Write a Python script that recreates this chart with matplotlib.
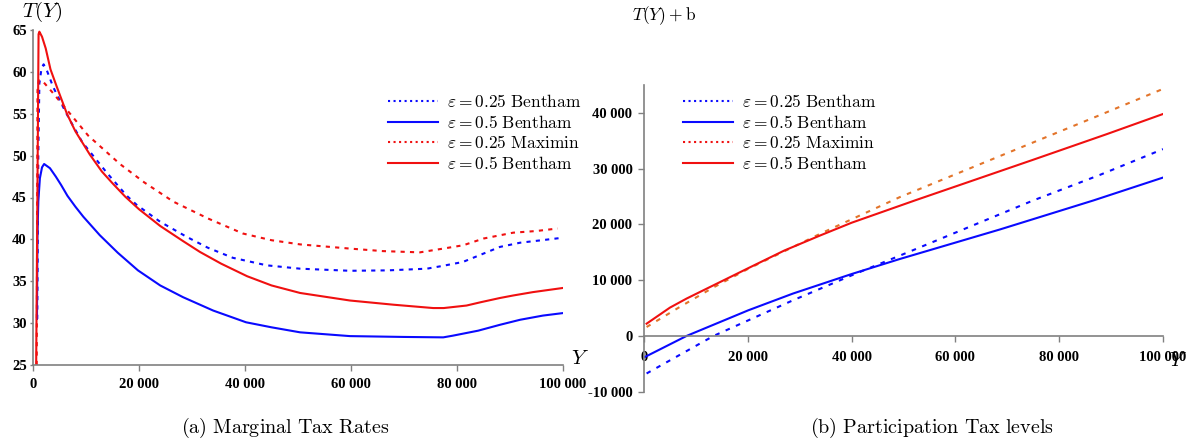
import matplotlib
matplotlib.use('Agg')
import matplotlib.pyplot as plt
from matplotlib.lines import Line2D
from matplotlib.ticker import FuncFormatter, FixedLocator

plt.rcParams['mathtext.fontset'] = 'cm'

# ---------------- data: (a) marginal tax rates ----------------
mtr_b025_y = [800, 1000, 1200, 1600, 2000, 2600, 3800, 6000, 7000, 9300, 14000, 17700, 19600,
              24000, 29000, 33000, 37700, 44100, 50400, 59800, 67000, 74300, 77000, 81100,
              88100, 91900, 96000, 100000]
mtr_b025_v = [30.5, 50.0, 58.6, 60.4, 60.9, 60.2, 58.2, 55.4, 54.2, 51.6, 47.9, 45.2, 44.1,
              42.1, 40.3, 39.0, 37.8, 36.9, 36.5, 36.25, 36.3, 36.5, 36.8, 37.3,
              39.1, 39.6, 39.9, 40.2]

mtr_b05_y = [750, 830, 1000, 1300, 1700, 2100, 3200, 4300, 5300, 6500, 8000, 9500, 12600, 16000,
             19800, 24000, 28300, 34000, 40200, 45000, 50400, 59800, 70000, 77400, 79200, 84000,
             88100, 91900, 96200, 100000]
mtr_b05_v = [30.5, 40.0, 44.5, 47.3, 48.6, 49.0, 48.5, 47.5, 46.5, 45.2, 43.9, 42.7, 40.5, 38.4,
             36.3, 34.5, 33.1, 31.5, 30.1, 29.5, 28.9, 28.45, 28.35, 28.3, 28.5, 29.1,
             29.8, 30.4, 30.9, 31.2]

mtr_m025_y = [700, 850, 1100, 1950, 3600, 7000, 10400, 16400, 21000, 26500, 33000, 39600,
              45000, 50400, 59800, 66000, 73000, 77400, 81200, 85000, 90600, 95000, 99000]
mtr_m025_v = [25.0, 57.8, 59.0, 58.8, 57.6, 55.0, 52.4, 49.0, 46.8, 44.5, 42.5, 40.7,
              39.9, 39.4, 38.9, 38.6, 38.45, 38.9, 39.3, 40.1, 40.8, 41.0, 41.3]

mtr_b05r_y = [600, 1050, 1200, 1700, 2400, 3300, 4500, 6400, 8000, 10750, 13000, 15000, 17400,
              20000, 24000, 28300, 31500, 35500, 40400, 45000, 50400, 59800, 68000, 75500,
              77500, 81800, 84500, 88100, 90600, 94300, 100000]
mtr_b05r_v = [25.0, 64.5, 64.8, 64.2, 62.8, 60.3, 58.2, 55.0, 52.9, 50.1, 48.1, 46.7, 45.1,
              43.6, 41.6, 39.8, 38.5, 37.1, 35.6, 34.5, 33.6, 32.7, 32.2, 31.8,
              31.8, 32.1, 32.5, 33.0, 33.3, 33.7, 34.2]

# ---------------- data: (b) participation tax levels ----------------
pt_b025_y = [500, 13400, 28700, 40000, 51900, 75000, 87900, 100000]
pt_b025_v = [-6730, 0, 6390, 10860, 15400, 24300, 28900, 33500]

pt_b05_y = [200, 8200, 20100, 28700, 40000, 49300, 68600, 86600, 100000]
pt_b05_v = [-3760, 0, 4600, 7600, 11100, 13800, 19100, 24300, 28400]

pt_m025_y = [500, 6900, 13300, 20100, 33900, 49300, 70500, 87200, 100000]
pt_m025_v = [1600, 5200, 8660, 12050, 18300, 24900, 32990, 39360, 44300]

pt_b05r_y = [500, 5000, 8200, 20100, 27000, 33900, 40000, 52200, 75000, 89200, 100000]
pt_b05r_v = [2200, 5080, 6700, 12160, 15300, 18000, 20300, 24300, 31600, 36200, 39800]

x_ticks = [0, 20000, 40000, 60000, 80000, 100000]
mtr_ticks = [25, 30, 35, 40, 45, 50, 55, 60, 65]
pt_ticks = [-10000, 0, 10000, 20000, 30000, 40000]

labels = [r'$\varepsilon = 0.25\ \mathrm{Bentham}$',
          r'$\varepsilon = 0.5\ \mathrm{Bentham}$',
          r'$\varepsilon = 0.25\ \mathrm{Maximin}$',
          r'$\varepsilon = 0.5\ \mathrm{Bentham}$']

BLUE = '#0a0aff'
RED = '#f01010'
ORANGE = '#e3742a'
SPINE = '#808080'
DOT1 = (0, (2.0, 2.5))
DOT2 = (0, (2.2, 3.2))
LW = 1.5

W, H = 1196, 445
def fx(px):
    return px / W
def fy(py):
    return 1 - py / H

def fmt(v, pos):
    s = f"{abs(int(round(v))):,}".replace(',', ' ')
    return ('-' if v < 0 else '') + s

tickfont = dict(family='Liberation Serif', weight='bold', size=10.5)

fig = plt.figure(figsize=(11.96, 4.45), dpi=100)

# ---------------- panel (a) ----------------
ax1 = fig.add_axes([fx(33), fy(365), fx(563) - fx(33), fy(30) - fy(365)])
ax1.plot(mtr_b025_y, mtr_b025_v, color=BLUE, lw=LW, ls=DOT1)
ax1.plot(mtr_m025_y, mtr_m025_v, color=RED, lw=LW, ls=DOT1)
ax1.plot(mtr_b05_y, mtr_b05_v, color=BLUE, lw=LW)
ax1.plot(mtr_b05r_y, mtr_b05r_v, color=RED, lw=LW)
ax1.set_xlim(0, 100000)
ax1.set_ylim(25, 65)
ax1.xaxis.set_major_locator(FixedLocator(x_ticks))
ax1.yaxis.set_major_locator(FixedLocator(mtr_ticks))
ax1.xaxis.set_major_formatter(FuncFormatter(fmt))
ax1.yaxis.set_major_formatter(FuncFormatter(lambda v, p: f"{int(v)}"))
for s in ['top', 'right']:
    ax1.spines[s].set_visible(False)
for s in ['left', 'bottom']:
    ax1.spines[s].set_color(SPINE)
    ax1.spines[s].set_linewidth(1.2)
ax1.tick_params(axis='x', direction='out', length=4, width=1, color=SPINE, pad=5.5)
ax1.tick_params(axis='y', direction='out', length=2, width=1, color=SPINE, pad=2.5)
for lab in ax1.get_xticklabels() + ax1.get_yticklabels():
    lab.set_fontproperties(tickfont)

# ---------------- panel (b) ----------------
ax2 = fig.add_axes([fx(644), fy(391.7), fx(1163) - fx(644), fy(85) - fy(391.7)])
ax2.plot(pt_b025_y, pt_b025_v, color=BLUE, lw=LW, ls=DOT2)
ax2.plot(pt_m025_y, pt_m025_v, color=ORANGE, lw=LW, ls=DOT2)
ax2.plot(pt_b05_y, pt_b05_v, color=BLUE, lw=LW)
ax2.plot(pt_b05r_y, pt_b05r_v, color=RED, lw=LW)
ax2.set_xlim(0, 100000)
ax2.set_ylim(-10000, 45000)
ax2.xaxis.set_major_locator(FixedLocator(x_ticks))
ax2.yaxis.set_major_locator(FixedLocator(pt_ticks))
ax2.xaxis.set_major_formatter(FuncFormatter(fmt))
ax2.yaxis.set_major_formatter(FuncFormatter(fmt))
for s in ['top', 'right']:
    ax2.spines[s].set_visible(False)
ax2.spines['bottom'].set_position(('data', 0))
for s in ['left', 'bottom']:
    ax2.spines[s].set_color(SPINE)
    ax2.spines[s].set_linewidth(1.2)
ax2.tick_params(axis='x', direction='out', length=4, width=1, color=SPINE, pad=7)
ax2.tick_params(axis='y', direction='out', length=4.3, width=1, color=SPINE, pad=4.0)
for lab in ax2.get_xticklabels() + ax2.get_yticklabels():
    lab.set_fontproperties(tickfont)

# ---------------- legends ----------------
handles = [Line2D([], [], color=BLUE, lw=LW, ls=':'),
           Line2D([], [], color=BLUE, lw=LW),
           Line2D([], [], color=RED, lw=LW, ls=':'),
           Line2D([], [], color=RED, lw=LW)]
for (lx, ly) in [(388, 93), (683, 93)]:
    fig.legend(handles, labels, loc='upper left', bbox_to_anchor=(fx(lx), fy(ly)),
               bbox_transform=fig.transFigure, frameon=False, borderpad=0,
               borderaxespad=0, handlelength=2.9, handletextpad=0.5,
               labelspacing=0.15, fontsize=12.5)

# ---------------- axis labels & captions ----------------
fig.text(fx(22), fy(12), r'$T(Y)$', fontsize=15, ha='left', va='center')
fig.text(fx(632), fy(16), r'$T(Y) + \mathrm{b}$', fontsize=12.5, ha='left', va='center')
fig.text(fx(580), fy(358), r'$Y$', fontsize=15, ha='center', va='center')
fig.text(fx(1178), fy(360), r'$Y$', fontsize=15, ha='center', va='center')
fig.text(fx(285), fy(428), r'$\mathrm{(a)\ Marginal\ Tax\ Rates}$', fontsize=14.5,
         ha='center', va='center')
fig.text(fx(932), fy(428), r'$\mathrm{(b)\ Participation\ Tax\ levels}$', fontsize=14.5,
         ha='center', va='center')

fig.savefig('out.png', dpi=100)
